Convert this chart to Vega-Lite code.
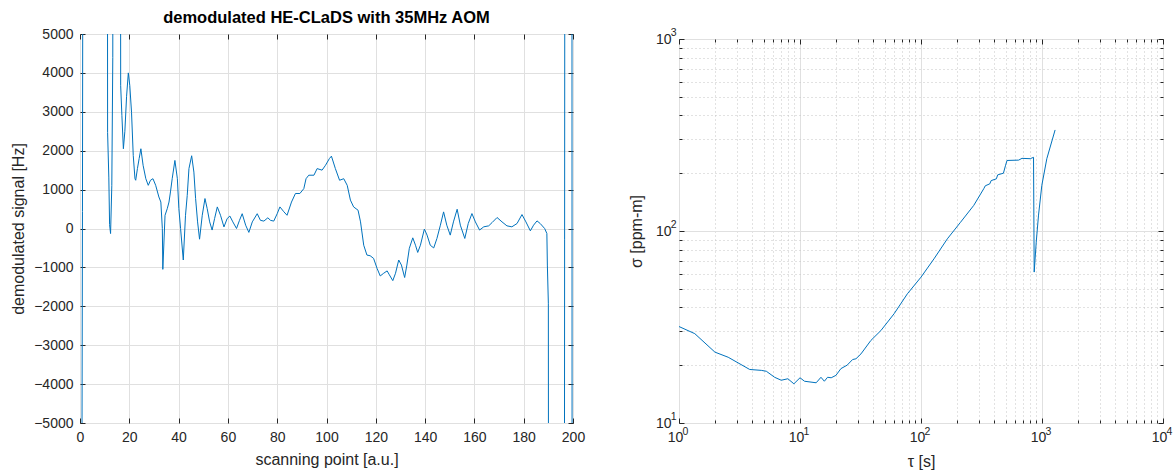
{
  "$schema": "https://vega.github.io/schema/vega-lite/v6.json",
  "background": "white",
  "padding": {"left": 10, "top": 9, "right": 5, "bottom": 5},
  "bounds": "flush",
  "spacing": 106,
  "config": {
    "font": "Liberation Sans",
    "view": {"stroke": "#262626", "strokeWidth": 1},
    "axis": {
      "domain": false,
      "labelColor": "#262626",
      "titleColor": "#262626",
      "labelFontSize": 14,
      "titleFontSize": 16,
      "titleFontWeight": "normal",
      "tickColor": "#262626",
      "gridColor": "#e0e0e0",
      "gridOpacity": 1,
      "labelFlush": false,
      "labelOverlap": false,
      "tickSize": -5,
      "labelPadding": 12,
      "titlePadding": 7
    }
  },
  "hconcat": [
    {
      "width": 493,
      "height": 389,
      "title": {"text": "demodulated HE-CLaDS with 35MHz AOM", "fontSize": 16.5, "fontWeight": "bold", "color": "#000000", "offset": 1},
      "data": {"values": [
        {"x": 0, "y": -30000}, {"x": 1.0, "y": 435}, {"x": 1.6, "y": 30000},
        {"x": 10.9, "y": 30000}, {"x": 11.2, "y": 2470}, {"x": 11.7, "y": 1300}, {"x": 12.0, "y": 100}, {"x": 12.4, "y": -130},
        {"x": 12.9, "y": 1100}, {"x": 13.3, "y": 4400}, {"x": 13.6, "y": 30000},
        {"x": 16.2, "y": 30000}, {"x": 16.5, "y": 3670}, {"x": 17.0, "y": 2900}, {"x": 17.6, "y": 2050}, {"x": 18.2, "y": 2500},
        {"x": 18.9, "y": 3400}, {"x": 19.6, "y": 4000}, {"x": 20.2, "y": 3675}, {"x": 20.9, "y": 2990}, {"x": 21.6, "y": 1880},
        {"x": 22.3, "y": 1280}, {"x": 22.6, "y": 1240}, {"x": 23.3, "y": 1540}, {"x": 24.0, "y": 1800}, {"x": 24.7, "y": 2050},
        {"x": 25.6, "y": 1625}, {"x": 26.7, "y": 1280}, {"x": 27.7, "y": 1110}, {"x": 28.6, "y": 1240}, {"x": 29.6, "y": 1280},
        {"x": 30.7, "y": 1110}, {"x": 32.0, "y": 810}, {"x": 32.8, "y": 680}, {"x": 33.4, "y": 0}, {"x": 33.6, "y": -1050},
        {"x": 34.5, "y": 340}, {"x": 35.4, "y": 510}, {"x": 36.1, "y": 680}, {"x": 36.7, "y": 940}, {"x": 37.4, "y": 1280},
        {"x": 38.5, "y": 1750}, {"x": 39.5, "y": 1280}, {"x": 40.1, "y": 510}, {"x": 40.8, "y": 0}, {"x": 41.9, "y": -810},
        {"x": 42.8, "y": 340}, {"x": 43.5, "y": 850}, {"x": 44.2, "y": 1540}, {"x": 45.3, "y": 1870}, {"x": 46.2, "y": 1450},
        {"x": 46.9, "y": 770}, {"x": 47.7, "y": 170}, {"x": 48.5, "y": -275}, {"x": 49.6, "y": 340}, {"x": 50.7, "y": 770},
        {"x": 51.6, "y": 510}, {"x": 52.6, "y": 170}, {"x": 53.6, "y": -40}, {"x": 54.6, "y": 255}, {"x": 55.7, "y": 555},
        {"x": 57.0, "y": 340}, {"x": 58.4, "y": 40}, {"x": 59.7, "y": 255}, {"x": 60.8, "y": 320}, {"x": 62.0, "y": 170},
        {"x": 63.5, "y": 0}, {"x": 64.7, "y": 210}, {"x": 65.8, "y": 380}, {"x": 67.2, "y": 85}, {"x": 68.5, "y": -100},
        {"x": 69.9, "y": 170}, {"x": 71.9, "y": 380}, {"x": 73.2, "y": 210}, {"x": 74.6, "y": 190}, {"x": 76.2, "y": 275},
        {"x": 77.3, "y": 210}, {"x": 78.6, "y": 190}, {"x": 80.0, "y": 380}, {"x": 81.1, "y": 555}, {"x": 82.7, "y": 430},
        {"x": 84.0, "y": 340}, {"x": 85.8, "y": 680}, {"x": 87.4, "y": 900}, {"x": 89.2, "y": 900}, {"x": 90.8, "y": 1025},
        {"x": 91.7, "y": 1280}, {"x": 92.8, "y": 1370}, {"x": 94.9, "y": 1370}, {"x": 96.2, "y": 1540}, {"x": 98.2, "y": 1500},
        {"x": 99.6, "y": 1625}, {"x": 101.2, "y": 1800}, {"x": 102.0, "y": 1860}, {"x": 103.6, "y": 1540}, {"x": 105.3, "y": 1240},
        {"x": 107.0, "y": 1280}, {"x": 108.4, "y": 1110}, {"x": 109.7, "y": 730}, {"x": 111.0, "y": 555}, {"x": 112.8, "y": 470},
        {"x": 113.8, "y": 170}, {"x": 115.1, "y": -430}, {"x": 116.4, "y": -683}, {"x": 117.7, "y": -700}, {"x": 119.1, "y": -768},
        {"x": 120.5, "y": -1024}, {"x": 121.8, "y": -1220}, {"x": 123.2, "y": -1150}, {"x": 124.6, "y": -1090}, {"x": 125.5, "y": -1190},
        {"x": 126.9, "y": -1340}, {"x": 128.0, "y": -1150}, {"x": 129.3, "y": -810}, {"x": 130.4, "y": -940}, {"x": 131.7, "y": -1260},
        {"x": 132.6, "y": -940}, {"x": 133.6, "y": -510}, {"x": 135.0, "y": -240}, {"x": 136.1, "y": -430}, {"x": 137.0, "y": -615},
        {"x": 138.1, "y": -430}, {"x": 139.7, "y": -15}, {"x": 140.8, "y": -170}, {"x": 142.1, "y": -430}, {"x": 143.5, "y": -500},
        {"x": 144.8, "y": -256}, {"x": 146.2, "y": 85}, {"x": 147.5, "y": 427}, {"x": 148.8, "y": 85}, {"x": 150.2, "y": -170},
        {"x": 151.5, "y": 170}, {"x": 153.0, "y": 495}, {"x": 154.3, "y": 85}, {"x": 156.1, "y": -256}, {"x": 157.5, "y": 128},
        {"x": 159.0, "y": 384}, {"x": 160.4, "y": 170}, {"x": 162.1, "y": -40}, {"x": 163.8, "y": 43}, {"x": 165.8, "y": 68},
        {"x": 167.2, "y": 154}, {"x": 169.2, "y": 282}, {"x": 171.2, "y": 170}, {"x": 173.2, "y": 68}, {"x": 175.2, "y": 43},
        {"x": 177.3, "y": 128}, {"x": 179.3, "y": 358}, {"x": 180.9, "y": 170}, {"x": 182.7, "y": -60}, {"x": 184.0, "y": 85},
        {"x": 185.4, "y": 196}, {"x": 186.7, "y": 128}, {"x": 188.5, "y": 0}, {"x": 189.4, "y": -128}, {"x": 189.6, "y": -940},
        {"x": 190.0, "y": -1920}, {"x": 190.3, "y": -30000}, {"x": 196.3, "y": -30000}, {"x": 196.6, "y": -275}, {"x": 196.9, "y": 30000},
        {"x": 199.5, "y": 30000}, {"x": 199.6, "y": 2950}, {"x": 199.7, "y": -30000}
      ]},
      "layer": [
        {
          "mark": {"type": "line", "clip": true, "color": "#0072BD", "strokeWidth": 1},
          "encoding": {
            "x": {"field": "x", "type": "quantitative", "scale": {"domain": [0, 200], "nice": false, "zero": false},
              "axis": {"values": [0, 20, 40, 60, 80, 100, 120, 140, 160, 180, 200], "title": "scanning point [a.u.]", "format": "d"}},
            "y": {"field": "y", "type": "quantitative", "scale": {"domain": [-5000, 5000], "nice": false, "zero": false},
              "axis": {"values": [-5000, -4000, -3000, -2000, -1000, 0, 1000, 2000, 3000, 4000, 5000], "title": "demodulated signal [Hz]", "format": "d"}}
          }
        },
        {
          "mark": {"type": "line", "clip": true, "strokeOpacity": 0},
          "encoding": {
            "x": {"field": "x", "type": "quantitative", "scale": {"domain": [0, 200], "nice": false, "zero": false},
              "axis": {"orient": "top", "values": [0, 20, 40, 60, 80, 100, 120, 140, 160, 180, 200], "labels": false, "title": null, "grid": false}},
            "y": {"field": "y", "type": "quantitative", "scale": {"domain": [-5000, 5000], "nice": false, "zero": false},
              "axis": {"orient": "right", "values": [-5000, -4000, -3000, -2000, -1000, 0, 1000, 2000, 3000, 4000, 5000], "labels": false, "title": null, "grid": false}}
          }
        }
      ],
      "resolve": {"scale": {"x": "independent", "y": "independent"}}
    },
    {
      "bounds": "flush",
      "spacing": 0,
      "vconcat": [
        {
          "width": 10,
          "height": 5,
          "view": {"stroke": null},
          "data": {"values": [{"a": 1}]},
          "mark": {"type": "point", "opacity": 0},
          "encoding": {}
        },
        {
          "width": 484,
          "height": 384,
          "data": {"values": [
            {"tau": 1, "sigma": 31.8}, {"tau": 1.35, "sigma": 29.2}, {"tau": 1.98, "sigma": 23.4}, {"tau": 2.55, "sigma": 22.0},
            {"tau": 3.84, "sigma": 19.0}, {"tau": 4.79, "sigma": 18.8}, {"tau": 5.27, "sigma": 18.6}, {"tau": 6.17, "sigma": 17.3},
            {"tau": 7.0, "sigma": 16.7}, {"tau": 7.94, "sigma": 17.0}, {"tau": 8.9, "sigma": 16.0}, {"tau": 10, "sigma": 17.2},
            {"tau": 10.9, "sigma": 16.5}, {"tau": 13.6, "sigma": 16.2}, {"tau": 14.9, "sigma": 17.3}, {"tau": 15.9, "sigma": 16.5},
            {"tau": 16.9, "sigma": 17.3}, {"tau": 18.1, "sigma": 17.2}, {"tau": 19.8, "sigma": 17.7}, {"tau": 21.8, "sigma": 19.2},
            {"tau": 24.5, "sigma": 20.0}, {"tau": 27.2, "sigma": 21.4}, {"tau": 29.0, "sigma": 21.6}, {"tau": 31.9, "sigma": 22.9},
            {"tau": 38.5, "sigma": 26.9}, {"tau": 46.6, "sigma": 30.3}, {"tau": 60, "sigma": 37.1}, {"tau": 77.2, "sigma": 47.1},
            {"tau": 100, "sigma": 57.5}, {"tau": 128, "sigma": 71.6}, {"tau": 165, "sigma": 91.0}, {"tau": 212, "sigma": 111},
            {"tau": 273, "sigma": 136}, {"tau": 330, "sigma": 166}, {"tau": 340, "sigma": 172}, {"tau": 370, "sigma": 176},
            {"tau": 380, "sigma": 183}, {"tau": 420, "sigma": 187}, {"tau": 430, "sigma": 196}, {"tau": 480, "sigma": 200},
            {"tau": 500, "sigma": 220}, {"tau": 514, "sigma": 233}, {"tau": 641, "sigma": 234}, {"tau": 683, "sigma": 239},
            {"tau": 800, "sigma": 238}, {"tau": 851, "sigma": 242}, {"tau": 862, "sigma": 61.1}, {"tau": 896, "sigma": 87.5},
            {"tau": 936, "sigma": 121}, {"tau": 997, "sigma": 173}, {"tau": 1096, "sigma": 238}, {"tau": 1283, "sigma": 336}
          ]},
          "layer": [
            {
              "mark": {"type": "line", "clip": true, "color": "#0072BD", "strokeWidth": 1},
              "encoding": {
                "x": {"field": "tau", "type": "quantitative", "scale": {"type": "log", "domain": [1, 10000], "nice": false},
                  "axis": {
                    "values": [1,2,3,4,5,6,7,8,9,10,20,30,40,50,60,70,80,90,100,200,300,400,500,600,700,800,900,1000,2000,3000,4000,5000,6000,7000,8000,9000,10000],
                    "title": "τ [s]",
                    "labelOffset": -4,
                    "labelExpr": "abs(log(datum.value)/LN10 - round(log(datum.value)/LN10)) < 0.000001 ? '10' : ''",
                    "gridDash": {"condition": {"test": "abs(log(datum.value)/LN10 - round(log(datum.value)/LN10)) < 0.000001", "value": []}, "value": [1, 3]},
                    "gridColor": {"condition": {"test": "abs(log(datum.value)/LN10 - round(log(datum.value)/LN10)) < 0.000001", "value": "#e0e0e0"}, "value": "#c4c4c4"},
                    "tickSize": {"condition": {"test": "abs(log(datum.value)/LN10 - round(log(datum.value)/LN10)) < 0.000001", "value": -5}, "value": -3}
                  }},
                "y": {"field": "sigma", "type": "quantitative", "scale": {"type": "log", "domain": [10, 1000], "nice": false},
                  "axis": {
                    "values": [10,20,30,40,50,60,70,80,90,100,200,300,400,500,600,700,800,900,1000],
                    "title": "σ [ppm-m]",
                    "titlePadding": 11,
                    "labelPadding": 13,
                    "labelExpr": "abs(log(datum.value)/LN10 - round(log(datum.value)/LN10)) < 0.000001 ? '10' : ''",
                    "gridDash": {"condition": {"test": "abs(log(datum.value)/LN10 - round(log(datum.value)/LN10)) < 0.000001", "value": []}, "value": [1, 3]},
                    "gridColor": {"condition": {"test": "abs(log(datum.value)/LN10 - round(log(datum.value)/LN10)) < 0.000001", "value": "#e0e0e0"}, "value": "#c4c4c4"},
                    "tickSize": {"condition": {"test": "abs(log(datum.value)/LN10 - round(log(datum.value)/LN10)) < 0.000001", "value": -5}, "value": -3}
                  }}
              }
            },
            {
              "mark": {"type": "line", "clip": true, "strokeOpacity": 0},
              "encoding": {
                "x": {"field": "tau", "type": "quantitative", "scale": {"type": "log", "domain": [1, 10000], "nice": false},
                  "axis": {"orient": "bottom", "values": [1, 10, 100, 1000, 10000], "ticks": false, "tickSize": 0, "grid": false, "title": null,
                    "labelExpr": "'' + round(log(datum.value)/LN10)", "labelFontSize": 10.5, "labelOffset": 6, "labelPadding": 3}},
                "y": {"field": "sigma", "type": "quantitative", "scale": {"type": "log", "domain": [10, 1000], "nice": false},
                  "axis": {"orient": "left", "values": [10, 100, 1000], "ticks": false, "tickSize": 0, "grid": false, "title": null,
                    "labelExpr": "'' + round(log(datum.value)/LN10)", "labelFontSize": 10.5, "labelOffset": -7, "labelPadding": 3}}
              }
            },
            {
              "mark": {"type": "line", "clip": true, "strokeOpacity": 0},
              "encoding": {
                "x": {"field": "tau", "type": "quantitative", "scale": {"type": "log", "domain": [1, 10000], "nice": false},
                  "axis": {"orient": "top", "labels": false, "title": null, "grid": false,
                    "values": [1,2,3,4,5,6,7,8,9,10,20,30,40,50,60,70,80,90,100,200,300,400,500,600,700,800,900,1000,2000,3000,4000,5000,6000,7000,8000,9000,10000],
                    "tickSize": {"condition": {"test": "abs(log(datum.value)/LN10 - round(log(datum.value)/LN10)) < 0.000001", "value": -5}, "value": -3}}},
                "y": {"field": "sigma", "type": "quantitative", "scale": {"type": "log", "domain": [10, 1000], "nice": false},
                  "axis": {"orient": "right", "labels": false, "title": null, "grid": false,
                    "values": [10,20,30,40,50,60,70,80,90,100,200,300,400,500,600,700,800,900,1000],
                    "tickSize": {"condition": {"test": "abs(log(datum.value)/LN10 - round(log(datum.value)/LN10)) < 0.000001", "value": -5}, "value": -3}}}
              }
            }
          ],
          "resolve": {"scale": {"x": "independent", "y": "independent"}}
        }
      ]
    }
  ]
}
